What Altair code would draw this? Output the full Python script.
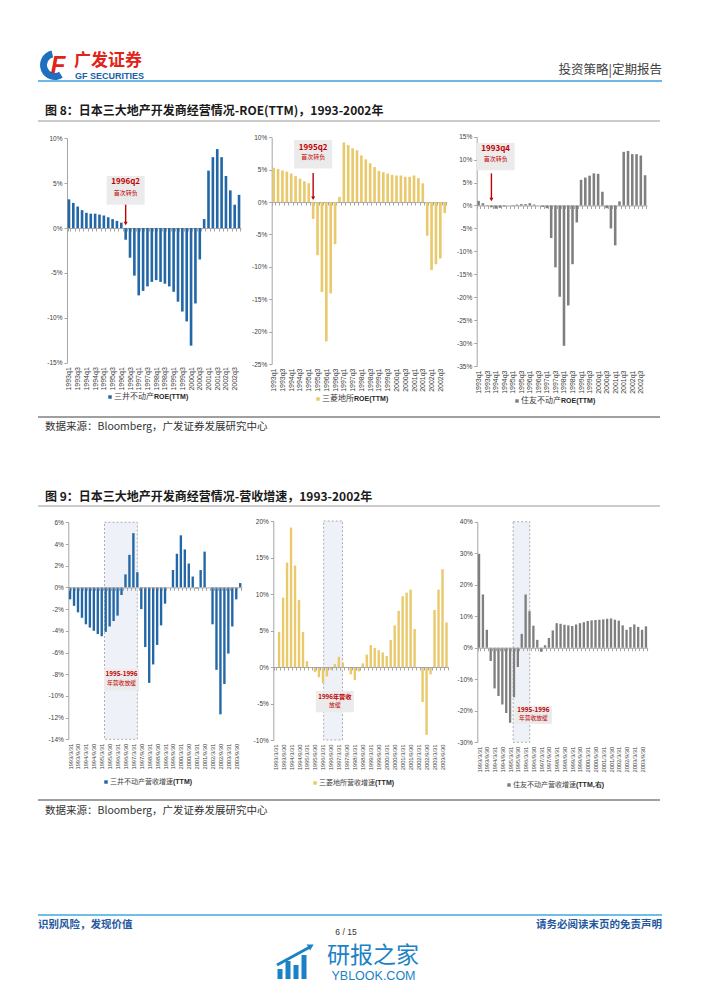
import altair as alt
import pandas as pd

W, H = 686, 974
CJK = "Noto Sans CJK SC"
LAT = "Liberation Sans"
NARROW = "Liberation Sans Narrow, Liberation Sans"
RED = "#C00000"
BLUE_BAR = "#2367A6"
GOLD_BAR = "#E9C96B"
GRAY_BAR = "#7F7F7F"
AXIS_GRAY = "#A6A6A6"

# ---------------- data ----------------
years8 = list(range(1993, 2003))
years9 = list(range(1993, 2004))
quarters8 = [f"{y}q{q}" for y in years8 for q in (1, 2, 3, 4)]
quarters9 = [f"{y}/{md}" for y in years9 for md in ("3/31", "6/30", "9/30", "12/31")]
labels8 = [c for c in quarters8 if c.endswith("q1") or c.endswith("q3")]
labels9 = [c for c in quarters9 if c.endswith("/3/31") or c.endswith("/9/30")]

mitsui_roe = [3.2, 2.8, 2.4, 2.0, 1.7, 1.6, 1.6, 1.5, 1.4, 1.2, 1.0, 0.8, 0.6,
              -1.3, -3.3, -5.3, -7.5, -7.0, -6.5, -6.0, -5.8, -6.0, -6.2,
              -6.5, -7.1, -8.2, -9.3, -10.4, -13.1, -8.4, -3.5,
              1.0, 6.4, 7.9, 8.8, 7.9, 5.8, 4.2, 2.6, 3.7]
mitsubishi_roe = [5.3, 5.1, 4.9, 4.7, 4.4, 4.0, 3.6, 3.2, 2.9,
                  -2.6, -8.2, -13.9, -21.5, -14.1, -6.5, 0.8,
                  9.2, 8.8, 8.3, 8.0, 7.2, 6.6, 6.0, 5.4, 4.8, 4.6,
                  4.4, 4.2, 4.1, 4.1, 3.9, 3.9, 4.1, 3.7, 2.9,
                  -5.2, -10.5, -9.6, -8.7, -1.7]
sumitomo_roe = [1.0, 0.5, 0.1, -0.4, -0.7, -0.5, -0.2, 0.0, 0.1, 0.2,
                0.3, 0.3, 0.5, 0.2, 0.0, -0.3, -0.6, -7.1, -13.5, -19.9,
                -30.6, -21.8, -12.8, -3.7, 5.6, 6.1, 6.5, 7.0, 6.9, 3.0,
                -0.6, -5.0, -8.7, 0.9, 11.7, 11.9, 11.2, 11.2, 10.9, 6.6]

mitsui_rev = [-1.1, -1.7, -2.3, -2.8, -3.4, -3.7, -4.0, -4.3, -4.5, -4.1,
              -3.6, -3.1, -2.6, -0.7, 1.2, 3.0, 5.0, 1.4, -2.0, -5.5,
              -8.8, -7.1, -5.3, -3.5, -1.5, 0.0, 1.6, 3.1, 4.8, 3.5,
              2.2, 1.0, -0.1, 1.6, 3.3, 0.0, -3.4, -7.6, -11.7, -8.9,
              -6.1, -3.6, -1.1, 0.4]
mitsubishi_rev = [None, 4.8, 9.5, 14.3, 19.1, 13.9, 9.2, 4.8, 0.8, 0.0,
                  -0.7, -1.4, -2.2, -1.3, -0.4, 0.4, 1.4, 0.6, -0.1, -1.0,
                  -1.8, -0.6, 0.5, 1.7, 3.0, 2.6, 2.3, 2.0, 1.5, 3.7,
                  5.7, 7.7, 9.7, 10.2, 10.6, 5.2, 0.0, -4.8, -9.3, -1.0,
                  7.8, 10.6, 13.4, 6.1]
sumitomo_rev = [29.8, 16.9, 5.7, -4.2, -12.9, -15.3, -18.0, -20.7, -23.8, -15.7,
                -6.1, 4.4, 16.9, 11.6, 7.0, 2.5, -1.3, 0.8, 3.1, 5.5,
                7.8, 7.6, 7.3, 7.1, 6.9, 7.4, 7.8, 8.1, 8.5, 8.7,
                8.8, 8.9, 9.0, 9.2, 9.3, 8.9, 8.6, 7.1, 5.7, 6.6,
                7.4, 6.6, 5.7, 6.8]


def px(x):
    return x - 8


def py(y):
    return y - 8


def one(**kw):
    return pd.DataFrame({k: [v] for k, v in kw.items()})


def panel(cats, vals, color, x0, x1, ytop, ybot, dmin, dmax, step, lbls, lsize,
          shade=None, callout=None):
    zero_y = ytop + dmax / (dmax - dmin) * (ybot - ytop)
    xs = alt.Scale(domain=cats, range=[px(x0), px(x1)], paddingInner=0.4, paddingOuter=0.15)
    ys = alt.Scale(domain=[dmin, dmax], range=[py(ybot), py(ytop)], nice=False, zero=False)
    lbl_list = "[" + ",".join("'" + c + "'" for c in lbls) + "]"
    xaxis = alt.Axis(orient="bottom", offset=py(zero_y) - H,
                     labelPadding=(ybot - zero_y) + 1, labelAngle=270,
                     labelAlign="right", labelBaseline="middle",
                     labelExpr=f"indexof({lbl_list}, datum.value) >= 0 ? datum.value : ''",
                     labelOverlap=False, labelFontSize=lsize, labelFont=LAT,
                     labelColor="#404040", tickBand="extent", tickSize=3,
                     tickColor=AXIS_GRAY, domainColor=AXIS_GRAY, domainWidth=1,
                     grid=False, title=None)
    yaxis = alt.Axis(orient="left", offset=-px(x0),
                     values=list(range(dmin, dmax + 1, step)),
                     labelExpr="datum.value + '%'", labelFontSize=6.5, labelFont=LAT,
                     labelColor="#404040", tickSize=3, tickColor=AXIS_GRAY,
                     domainColor=AXIS_GRAY, labelPadding=2, grid=False, title=None)

    def X(f, **kw):
        return alt.X(f, scale=xs, axis=xaxis, title=None, **kw)

    def Y(f):
        return alt.Y(f, scale=ys, axis=yaxis, title=None)

    layers = []
    if shade:
        c1, b1, c2, b2 = shade
        d = one(c1=c1, c2=c2, top=dmax, bot=dmin)
        layers.append(alt.Chart(d).mark_rect(fill="#EEF1F7", stroke="#9A9A9A",
                                             strokeDash=[2, 2], strokeWidth=0.8).encode(
            x=X("c1:N", bandPosition=b1), x2=alt.X2("c2", bandPosition=b2),
            y=Y("top:Q"), y2="bot"))
    df = pd.DataFrame({"cat": cats, "val": vals})
    layers.append(alt.Chart(df).mark_bar(color=color).encode(
        x=X("cat:N"), y=Y("val:Q"), y2=alt.datum(0)))
    if callout:
        bc, bw, by1, by2 = callout["box"]
        layers.append(alt.Chart(one(c=bc, b1=by1, b2=by2)).mark_bar(
            width=bw, color="#EBEBEB").encode(x=X("c:N"), y=Y("b1:Q"), y2="b2"))
        for (tc, ty, s, fs, fw) in callout["texts"]:
            layers.append(alt.Chart(one(c=tc, t=ty, s=s)).mark_text(
                color=RED, fontSize=fs, fontWeight=fw, font=CJK, baseline="middle",
                align="center").encode(x=X("c:N"), y=Y("t:Q"), text="s:N"))
        if "arrow" in callout:
            ac, a1, a2 = callout["arrow"]
            d = one(c=ac, a1=a1, a2=a2)
            layers.append(alt.Chart(d).mark_rule(color=RED, strokeWidth=1.4).encode(
                x=X("c:N"), y=Y("a1:Q"), y2="a2"))
            layers.append(alt.Chart(d).mark_point(shape="triangle-down", filled=True,
                                                  size=16, color=RED, opacity=1).encode(
                x=X("c:N"), y=Y("a2:Q")))
    return alt.layer(*layers)


def text(s, x, y, size, color="#262626", weight="normal", align="left", font=CJK, style=None):
    props = dict(align=align, baseline="middle", fontSize=size, color=color,
                 fontWeight=weight, font=font)
    if style:
        props["fontStyle"] = style
    return alt.Chart(one(t=s)).mark_text(**props).encode(
        x=alt.value(px(x)), y=alt.value(py(y)), text="t:N")


def hline(x1, x2, y, color, w):
    return alt.Chart(one(a=0)).mark_rule(color=color, strokeWidth=w).encode(
        x=alt.value(px(x1)), x2=alt.value(px(x2)), y=alt.value(py(y)))


def seg(x1, y1, x2, y2, color, w):
    return alt.Chart(one(a=0)).mark_rule(color=color, strokeWidth=w).encode(
        x=alt.value(px(x1)), x2=alt.value(px(x2)), y=alt.value(py(y1)), y2=alt.value(py(y2)))


def legend(x, y, color, cjk, bold, fs):
    sw = alt.Chart(one(a=0)).mark_square(size=12, color=color, opacity=1).encode(
        x=alt.value(px(x)), y=alt.value(py(y)))
    t1 = text(cjk, x + 4, y, fs, color="#404040")
    t2 = text(bold, x + 4 + len(cjk) * fs, y, 7, color="#262626", weight="bold", font=NARROW)
    return [sw, t1, t2]


panels = [
    panel(quarters8, mitsui_roe, BLUE_BAR, 67, 241, 138.3, 362.7, -15, 10, 5, labels8, 7,
          callout={"box": ("1996q2", 38, 5.8, 2.6),
                   "texts": [("1996q2", 5.1, "1996q2", 8, "bold"),
                             ("1996q2", 3.95, "首次转负", 6, "normal")],
                   "arrow": ("1996q2", 2.6, 0.5)}),
    panel(quarters8, mitsubishi_roe, GOLD_BAR, 271.7, 446.7, 137.3, 364, -25, 10, 5, labels8, 7,
          callout={"box": ("1995q2", 38, 9.6, 5.2),
                   "texts": [("1995q2", 8.4, "1995q2", 8, "bold"),
                             ("1995q2", 6.9, "首次转负", 6, "normal")],
                   "arrow": ("1995q2", 4.5, 0.6)}),
    panel(quarters8, sumitomo_roe, GRAY_BAR, 476.7, 647, 136.7, 366, -35, 15, 5, labels8, 7,
          callout={"box": ("1994q1", 38, 13.6, 7.7),
                   "texts": [("1994q1", 12.3, "1993q4", 8, "bold"),
                             ("1994q1", 10.2, "首次转负", 6, "normal")],
                   "arrow": ("1993q4", 7.0, 1.3)}),
    panel(quarters9, mitsui_rev, BLUE_BAR, 68.3, 242, 522.3, 739.3, -14, 6, 2, labels9, 5.8,
          shade=("1995/6/30", 0.0, "1997/6/30", 0.5),
          callout={"box": ("1996/6/30", 35, -7.5, -9.5),
                   "texts": [("1996/6/30", -7.95, "1995-1996", 6.3, "bold"),
                             ("1996/6/30", -8.85, "年营收放缓", 5.8, "normal")]}),
    panel(quarters9, mitsubishi_rev, GOLD_BAR, 273.3, 448.3, 521, 740, -10, 20, 5, labels9, 5.8,
          shade=("1996/3/31", 0.8, "1997/6/30", 0.35),
          callout={"box": ("1996/12/31", 38, -3.3, -6.2),
                   "texts": [("1996/12/31", -4.05, "1996年营收", 6.2, "bold"),
                             ("1996/12/31", -5.2, "放缓", 5.8, "normal")]}),
    panel(quarters9, sumitomo_rev, GRAY_BAR, 477.3, 647.7, 521.7, 742.3, -30, 40, 10, labels9, 5.8,
          shade=("1995/6/30", 0.15, "1996/6/30", 0.6),
          callout={"box": ("1996/9/30", 37, -18.4, -24.2),
                   "texts": [("1996/9/30", -19.8, "1995-1996", 6.3, "bold"),
                             ("1996/9/30", -22.4, "年营收放缓", 5.8, "normal")]}),
]

decos = []
# header logo
decos.append(alt.Chart(one(a=0)).mark_arc(innerRadius=8, outerRadius=15, theta=2.6, theta2=6.05,
                                          color="#1F6FC0").encode(x=alt.value(px(55)), y=alt.value(py(65))))
decos.append(text("F", 58, 66, 24, color="#E2231A", weight="bold", align="center", font=LAT, style="italic"))
decos.append(text("广发证券", 74, 61, 17, color="#E2231A", weight="bold"))
decos.append(text("GF SECURITIES", 75, 75.5, 9, color="#1A5DAB", weight="bold", font=LAT))
decos.append(text("投资策略|定期报告", 662, 70, 12.5, color="#404040", align="right"))
decos.append(hline(38, 662, 81, "#3AA0DC", 1.5))

# figure 8 texts
decos.append(text("图 8：日本三大地产开发商经营情况-ROE(TTM)，1993-2002年", 45, 111, 12, color="#1A1A1A", weight="bold"))
decos.append(hline(38, 660, 121, "#7F7F7F", 0.8))
decos += legend(110, 397, BLUE_BAR, "三井不动产", "ROE(TTM)", 8)
decos += legend(318, 399, GOLD_BAR, "三菱地所", "ROE(TTM)", 8)
decos += legend(517, 401, GRAY_BAR, "住友不动产", "ROE(TTM)", 8)
decos.append(hline(38, 660, 417, "#404040", 1))
decos.append(text("数据来源：Bloomberg，广发证券发展研究中心", 45, 427, 10.5, color="#333333"))

# figure 9 texts
decos.append(text("图 9：日本三大地产开发商经营情况-营收增速，1993-2002年", 45, 497, 12, color="#1A1A1A", weight="bold"))
decos.append(hline(38, 660, 506, "#7F7F7F", 0.8))
decos += legend(106, 782, BLUE_BAR, "三井不动产营收增速", "(TTM)", 7)
decos += legend(315, 783, GOLD_BAR, "三菱地所营收增速", "(TTM)", 7)
decos += legend(509, 785, GRAY_BAR, "住友不动产营收增速", "(TTM,右)", 7)
decos.append(hline(38, 660, 800, "#404040", 1))
decos.append(text("数据来源：Bloomberg，广发证券发展研究中心", 45, 811, 10.5, color="#333333"))

# footer
decos.append(hline(38, 662, 915, "#3FA9E0", 1.5))
decos.append(text("识别风险，发现价值", 38, 925, 10.5, color="#24589E", weight="bold"))
decos.append(text("请务必阅读末页的免责声明", 662, 925, 10.5, color="#24589E", weight="bold", align="right"))
decos.append(text("6 / 15", 346, 932, 8.5, color="#333333", align="center", font=LAT))

# watermark
WM = "#1B82C6"
decos.append(seg(280, 979, 280, 969, WM, 5))
decos.append(seg(288, 979, 288, 961, WM, 5))
decos.append(seg(296, 979, 296, 965, WM, 5))
decos.append(seg(304, 979, 304, 955, WM, 5))
decos.append(seg(277, 965, 310, 947, WM, 3))
decos.append(alt.Chart(one(a=0)).mark_point(shape="triangle-up", angle=60, filled=True, size=50,
                                            color=WM, opacity=1).encode(x=alt.value(px(311)), y=alt.value(py(946))))
decos.append(text("研报之家", 373, 956, 23, color=WM, align="center"))
decos.append(text("YBLOOK.COM", 373.5, 975.5, 12.5, color=WM, align="center", font=LAT))

chart = alt.layer(*panels, *decos).resolve_scale(
    x="independent", y="independent"
).properties(
    width=W, height=H, autosize=alt.AutoSizeParams(type="none"), padding=0
).configure_view(strokeWidth=0)

chart.save("out.html", embed_options={"renderer": "svg", "actions": False})
